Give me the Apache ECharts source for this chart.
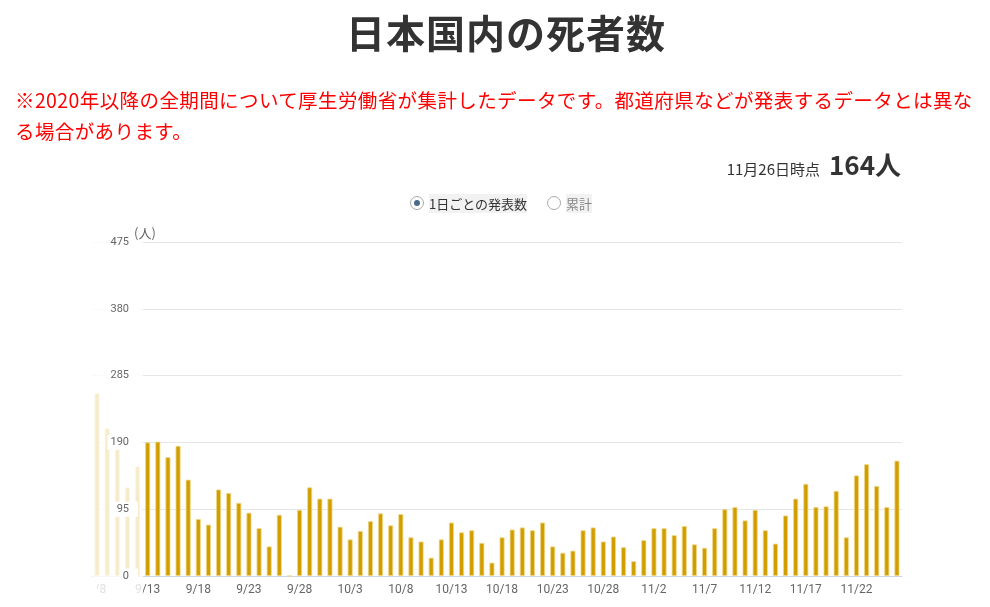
<!DOCTYPE html>
<html>

<head>
    <meta charset="utf-8">
    <title>日本国内の死者数</title>
    <script src="https://cdn.jsdelivr.net/npm/echarts@6/dist/echarts.min.js"></script>
    <style>
        body { margin: 0; background: #fff; font-family: "Noto Sans CJK JP", "Noto Sans", sans-serif; }
        #wrap { position: relative; width: 990px; height: 607px; overflow: hidden; }
        #chart { position: absolute; left: 0; top: 0; width: 990px; height: 607px; }
        .title { position: absolute; left: 0; width: 1012px; top: 3px; text-align: center; font-size: 39px; font-weight: bold; color: #333; letter-spacing: 1px; }
        .note { position: absolute; left: 15px; top: 84px; font-size: 19.5px; line-height: 31px; color: #f00; letter-spacing: 0.4px; }
        .now { position: absolute; right: 89px; top: 145px; color: #333; font-size: 15px; }
        .now b { font-size: 26px; margin-left: 9px; }
        .radios { position: absolute; left: 410px; top: 192px; font-size: 13px; color: #333; }
        .radios span { display: inline-block; vertical-align: middle; }
        .dot { width: 14px; height: 14px; border-radius: 50%; border: 1px solid #aaa; box-sizing: border-box; position: relative; margin-right: 5px; background: #fff; }
        .dot.on::after { content: ""; position: absolute; left: 3px; top: 3px; width: 6px; height: 6px; border-radius: 50%; background: #4a6a8a; }
        .lab { background: #f2f2f2; }
        .off { color: #888; }
        .unit { position: absolute; left: 134px; top: 224px; font-size: 13px; line-height: 17px; color: #666; }
    </style>
</head>

<body>
    <div id="wrap">
        <div id="chart"></div>
        <div class="title">日本国内の死者数</div>
        <div class="note">※2020年以降の全期間について厚生労働省が集計したデータです。都道府県などが発表するデータとは異な<br>る場合があります。</div>
        <div class="now">11月26日時点<b>164人</b></div>
        <div class="radios">
            <span class="dot on"></span><span class="lab">1日ごとの発表数</span>
            <span class="dot" style="margin-left:17px"></span><span class="lab off">累計</span>
        </div>
        <div class="unit">(人)</div>
    </div>
    <script>
    // 9/8 〜 11/26 の1日ごとの発表数
    var days = ['9/8', '9/9', '9/10', '9/11', '9/12', '9/13', '9/14', '9/15', '9/16', '9/17',
        '9/18', '9/19', '9/20', '9/21', '9/22', '9/23', '9/24', '9/25', '9/26', '9/27',
        '9/28', '9/29', '9/30', '10/1', '10/2', '10/3', '10/4', '10/5', '10/6', '10/7',
        '10/8', '10/9', '10/10', '10/11', '10/12', '10/13', '10/14', '10/15', '10/16', '10/17',
        '10/18', '10/19', '10/20', '10/21', '10/22', '10/23', '10/24', '10/25', '10/26', '10/27',
        '10/28', '10/29', '10/30', '10/31', '11/1', '11/2', '11/3', '11/4', '11/5', '11/6',
        '11/7', '11/8', '11/9', '11/10', '11/11', '11/12', '11/13', '11/14', '11/15', '11/16',
        '11/17', '11/18', '11/19', '11/20', '11/21', '11/22', '11/23', '11/24', '11/25', '11/26'];
    var deaths = [260, 210, 195, 126, 156, 190, 191, 169, 185, 137,
        81, 73, 123, 118, 104, 90, 68, 42, 87, 0,
        94, 126, 110, 110, 70, 52, 64, 78, 89, 72,
        88, 55, 49, 26, 52, 76, 62, 65, 47, 19,
        55, 66, 69, 65, 76, 42, 33, 36, 65, 69,
        49, 56, 41, 21, 51, 68, 68, 58, 71, 45,
        40, 68, 95, 98, 79, 94, 65, 46, 86, 110,
        131, 98, 99, 121, 55, 143, 159, 128, 98, 164];
    var yTicks = [0, 95, 190, 285, 380, 475];

    var chart = echarts.init(document.getElementById('chart'));
    chart.setOption({
        animation: false,
        grid: {
            left: 92,
            right: 88,
            top: 242,
            bottom: 31
        },
        xAxis: {
            type: 'category',
            data: days,
            axisLine: { lineStyle: { color: '#ccd6eb' } },
            axisTick: { show: false },
            axisLabel: { interval: 4, color: '#666', fontSize: 12, margin: 8, fontFamily: 'Roboto' }
        },
        yAxis: [{
            type: 'value',
            min: yTicks[0],
            max: yTicks[yTicks.length - 1],
            interval: yTicks[1] - yTicks[0],
            axisLabel: { show: false },
            splitLine: { lineStyle: { color: '#e6e6e6' } }
        }, {
            type: 'value',
            position: 'left',
            offset: -46,
            z: 100,
            min: yTicks[0],
            max: yTicks[yTicks.length - 1],
            interval: yTicks[1] - yTicks[0],
            axisLine: { show: false },
            axisTick: { show: false },
            splitLine: { show: false },
            axisLabel: {
                color: '#666', fontSize: 11, margin: 0, fontFamily: 'Roboto',
                backgroundColor: '#fff', padding: [2, 9, 2, 3]
            }
        }],
        graphic: [{
            type: 'rect',
            z: 50,
            shape: { x: 92, y: 236, width: 51, height: 371 },
            style: { fill: 'rgba(255,255,255,0.8)' }
        }, {
            type: 'rect',
            z: 50,
            shape: { x: 0, y: 580, width: 97, height: 27 },
            style: { fill: '#fff' }
        }],
        series: [{
            type: 'bar',
            data: deaths,
            barWidth: 5,
            itemStyle: { color: '#d19e00', borderColor: '#f0d88c', borderWidth: 0.8 }
        }]
    });
    </script>
</body>

</html>
